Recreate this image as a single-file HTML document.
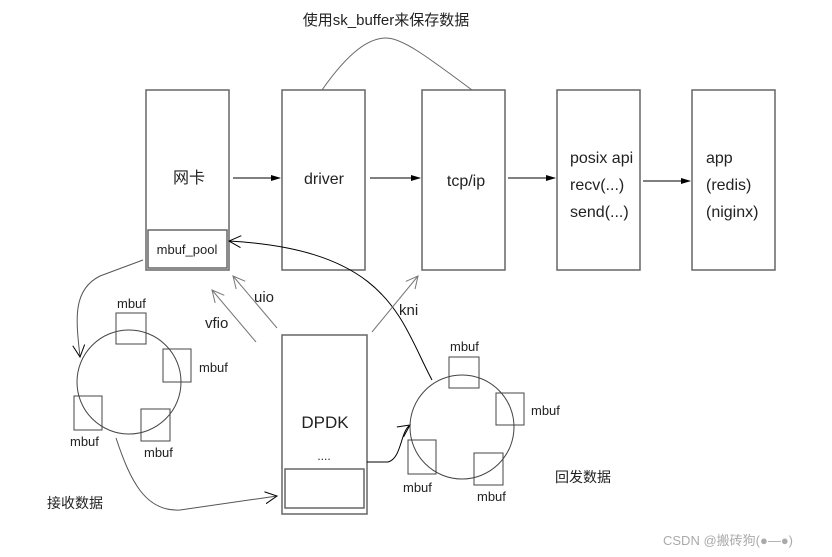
<!DOCTYPE html>
<html><head><meta charset="utf-8"><style>
body{margin:0;background:#fff;}
svg{display:block;font-family:"Liberation Sans","Noto Sans CJK SC",sans-serif;}
text{fill:#222;}
</style></head><body>
<svg width="832" height="557" viewBox="0 0 832 557" xmlns="http://www.w3.org/2000/svg">
<defs>
<marker id="fa" markerWidth="10" markerHeight="8" refX="9" refY="4" orient="auto" markerUnits="userSpaceOnUse"><path d="M0,1 L10,4 L0,7 Z" fill="#000"/></marker>
<marker id="oa" markerWidth="14" markerHeight="14" refX="12" refY="7" orient="auto" markerUnits="userSpaceOnUse"><path d="M0,1 L12,7 L0,13" fill="none" stroke="#000" stroke-width="1"/></marker>
<marker id="ga" markerWidth="14" markerHeight="14" refX="12" refY="7" orient="auto" markerUnits="userSpaceOnUse"><path d="M0,1 L12,7 L0,13" fill="none" stroke="#777" stroke-width="1"/></marker>
</defs>
<g fill="none" stroke="#666" stroke-width="1.5">
<rect x="146" y="90" width="83" height="180"/>
<rect x="148" y="230" width="79" height="38"/>
<rect x="282" y="90" width="83" height="180"/>
<rect x="422" y="90" width="83" height="180"/>
<rect x="557" y="90" width="83" height="180"/>
<rect x="692" y="90" width="83" height="180"/>
<rect x="282" y="335" width="85" height="179"/>
<rect x="285" y="469" width="79" height="39"/>
</g>
<path d="M322,90 C350,50 370,38 386,38 C402,38 425,55 472,90" fill="none" stroke="#666" stroke-width="1"/>
<g stroke="#000" stroke-width="1" fill="none">
<line x1="233" y1="178" x2="280" y2="178" marker-end="url(#fa)"/>
<line x1="370" y1="178" x2="420" y2="178" marker-end="url(#fa)"/>
<line x1="508" y1="178" x2="555" y2="178" marker-end="url(#fa)"/>
<line x1="643" y1="181" x2="690" y2="181" marker-end="url(#fa)"/>
<path d="M432,380 C400,320 390,250 229,241" marker-end="url(#oa)"/>
<path d="M143,260 L100,276 C72,290 76,320 80,357" marker-end="url(#oa)" stroke="#555"/>
<path d="M116,438 C130,480 145,512 180,510 L277,496" marker-end="url(#oa)" stroke="#555"/>
<path d="M367,462 L388,462 C402,458 400,432 410,425" marker-end="url(#oa)"/>
</g>
<g stroke="#777" stroke-width="1" fill="none">
<line x1="256" y1="342" x2="212" y2="290" marker-end="url(#ga)"/>
<line x1="277" y1="328" x2="233" y2="276" marker-end="url(#ga)"/>
<line x1="372" y1="332" x2="418" y2="276" marker-end="url(#ga)"/>
</g>
<g fill="none" stroke="#444" stroke-width="1">
<circle cx="129" cy="382" r="52"/>
<circle cx="462" cy="427" r="52"/>
<rect x="116" y="313" width="30" height="31"/>
<rect x="163" y="349" width="28" height="33"/>
<rect x="74" y="396" width="28" height="34"/>
<rect x="141" y="409" width="29" height="32"/>
<rect x="449" y="357" width="30" height="31"/>
<rect x="496" y="393" width="28" height="32"/>
<rect x="408" y="440" width="28" height="34"/>
<rect x="474" y="453" width="29" height="32"/>
</g>
<g font-size="16">
<text x="386" y="25" text-anchor="middle" font-size="15">使用sk_buffer来保存数据</text>
<text x="189" y="183" text-anchor="middle">网卡</text>
<text x="324" y="184" text-anchor="middle">driver</text>
<text x="466" y="186" text-anchor="middle">tcp/ip</text>
<text x="570" y="163">posix api</text>
<text x="570" y="190">recv(...)</text>
<text x="570" y="217">send(...)</text>
<text x="706" y="163">app</text>
<text x="706" y="190">(redis)</text>
<text x="706" y="217">(niginx)</text>
<text x="187" y="254" text-anchor="middle" font-size="13">mbuf_pool</text>
<text x="325" y="428" text-anchor="middle" font-size="17">DPDK</text>
<text x="324" y="460" text-anchor="middle" font-size="12">....</text>
<text x="254" y="302" font-size="15">uio</text>
<text x="205" y="328" font-size="15">vfio</text>
<text x="399" y="315" font-size="15">kni</text>
<text x="47" y="508" font-size="14">接收数据</text>
<text x="555" y="482" font-size="14">回发数据</text>
</g>
<g font-size="13">
<text x="117" y="308">mbuf</text>
<text x="199" y="372">mbuf</text>
<text x="70" y="446">mbuf</text>
<text x="144" y="457">mbuf</text>
<text x="450" y="351">mbuf</text>
<text x="531" y="415">mbuf</text>
<text x="403" y="492">mbuf</text>
<text x="477" y="501">mbuf</text>
</g>
<text x="663" y="545" font-size="13" style="fill:#aaa">CSDN @搬砖狗(●—●)</text>
</svg>
</body></html>
